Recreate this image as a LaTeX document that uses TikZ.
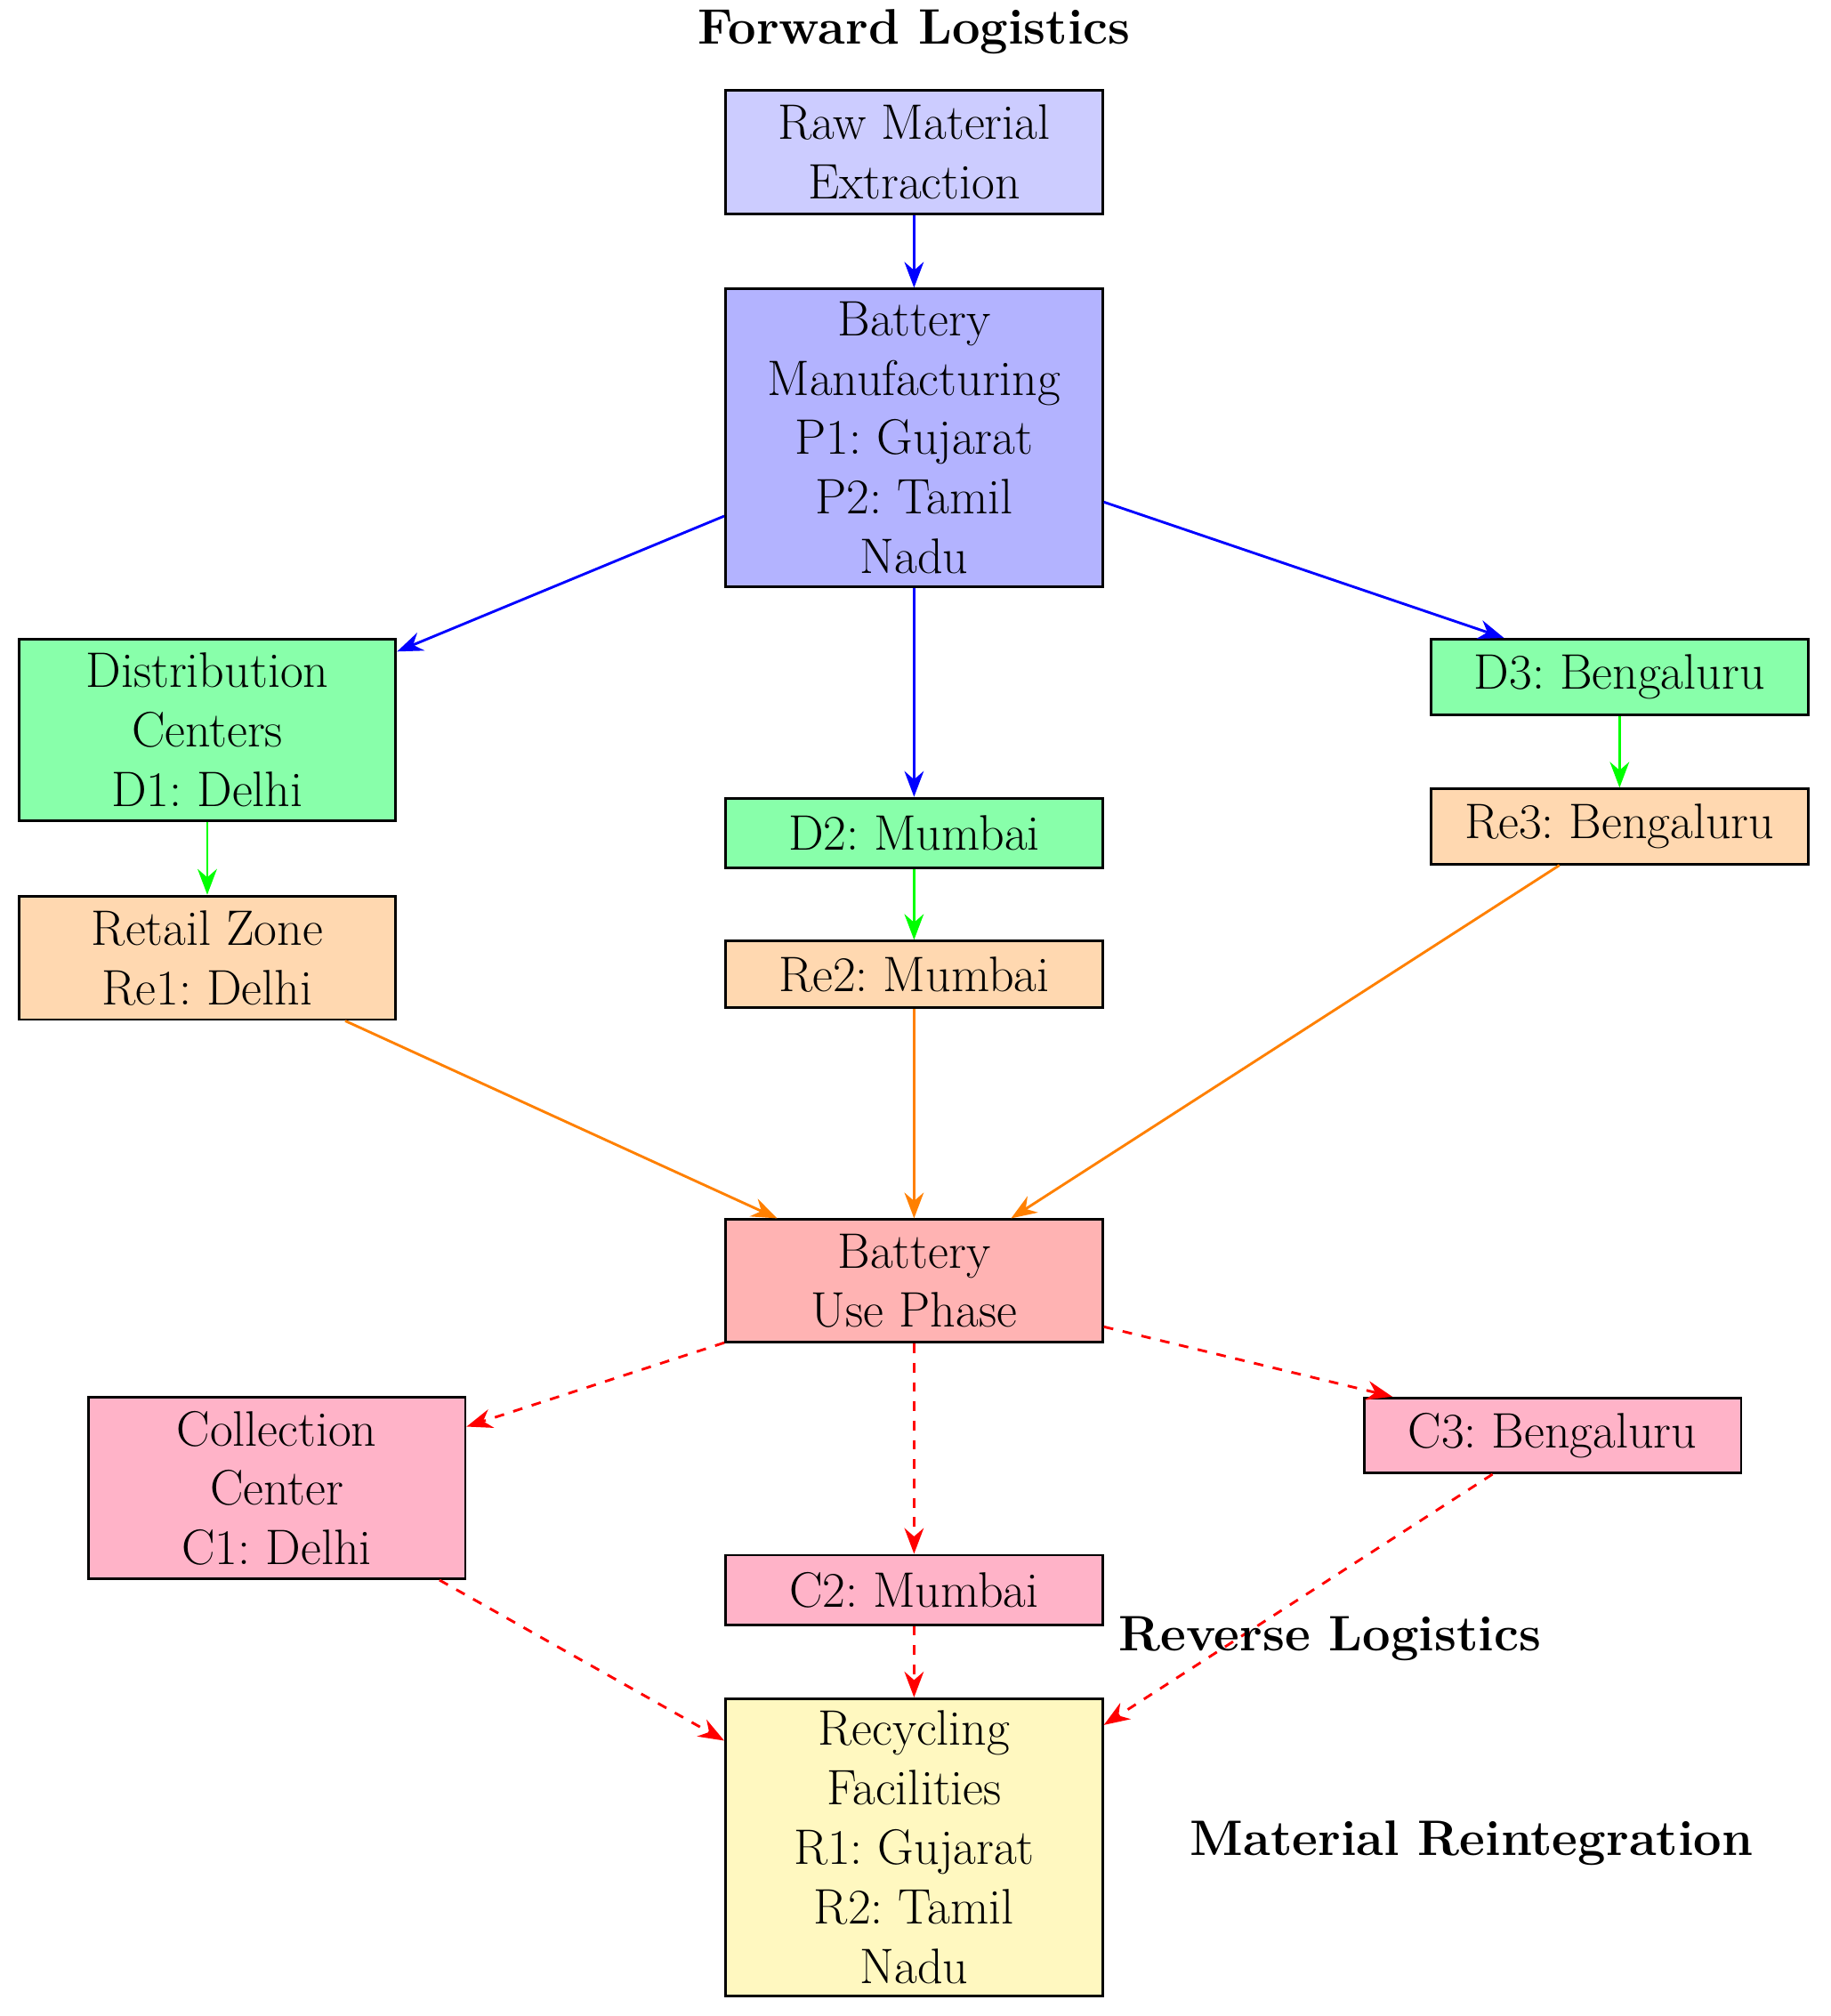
\documentclass[tikz,border=0pt]{standalone}
\usetikzlibrary{arrows.meta}
\definecolor{craw}{RGB}{204,204,255}
\definecolor{cman}{RGB}{179,179,255}
\definecolor{cgr}{RGB}{136,255,170}
\definecolor{cor}{RGB}{255,216,176}
\definecolor{cuse}{RGB}{255,179,179}
\definecolor{cpk}{RGB}{255,179,200}
\definecolor{cye}{RGB}{255,248,192}
\begin{document}
\begin{tikzpicture}[x=0.014065cm,y=-0.014065cm,
  box/.style={draw,thick,align=center,minimum width=293\pgflinewidth*0+4.12cm,font=\fontsize{15.5}{18.5}\selectfont,inner sep=2pt},
  ttl/.style={font=\fontsize{15.5}{18}\selectfont\bfseries},
  arr/.style={->,>={Stealth[length=8pt,width=6pt]},thick}]
\useasboundingbox (0,0) rectangle (1422,1566);
\node[ttl] (t1) at (710,25) {Forward Logistics};
\node[box,fill=craw,minimum height=96\pgflinewidth*0+1.35cm] (raw) at (710,118) {Raw Material\\Extraction};
\node[box,fill=cman,minimum height=3.25cm] (man) at (710,340) {Battery\\Manufacturing\\P1:\ Gujarat\\P2:\ Tamil\\Nadu};
\node[box,fill=cgr,minimum height=1.98cm] (d1) at (161,567) {Distribution\\Centers\\D1:\ Delhi};
\node[box,fill=cgr,minimum height=0.76cm] (d2) at (710,647) {D2:\ Mumbai};
\node[box,fill=cgr,minimum height=0.83cm] (d3) at (1258,526) {D3:\ Bengaluru};
\node[box,fill=cor,minimum height=1.35cm] (r1) at (161,744) {Retail Zone\\Re1:\ Delhi};
\node[box,fill=cor,minimum height=0.73cm] (r2) at (710,757) {Re2:\ Mumbai};
\node[box,fill=cor,minimum height=0.82cm] (r3) at (1258,642) {Re3:\ Bengaluru};
\node[box,fill=cuse,minimum height=1.34cm] (use) at (710,995) {Battery\\Use Phase};
\node[box,fill=cpk,minimum height=1.98cm] (c1) at (215,1156) {Collection\\Center\\C1:\ Delhi};
\node[box,fill=cpk,minimum height=0.76cm] (c2) at (710,1235) {C2:\ Mumbai};
\node[box,fill=cpk,minimum height=0.82cm] (c3) at (1206,1115) {C3:\ Bengaluru};
\node[box,fill=cye,minimum height=3.25cm] (rec) at (710,1435) {Recycling\\Facilities\\R1:\ Gujarat\\R2:\ Tamil\\Nadu};
\draw[arr,blue] (raw) -- (man);
\draw[arr,blue] (man) -- (d1);
\draw[arr,blue] (man) -- (d2);
\draw[arr,blue] (man) -- (d3);
\draw[arr,green] (d1) -- (r1);
\draw[arr,green] (d2) -- (r2);
\draw[arr,green] (d3) -- (r3);
\draw[arr,orange] (r1) -- (use);
\draw[arr,orange] (r2) -- (use);
\draw[arr,orange] (r3) -- (use);
\draw[arr,red,dashed] (use) -- (c1);
\draw[arr,red,dashed] (use) -- (c2);
\draw[arr,red,dashed] (use) -- (c3);
\draw[arr,red,dashed] (c1) -- (rec);
\draw[arr,red,dashed] (c2) -- (rec);
\draw[arr,red,dashed] (c3) -- (rec);
\node[ttl] (t2) at (1033,1273) {Reverse Logistics};
\node[ttl] (t3) at (1143,1432) {Material Reintegration};
\end{tikzpicture}
\end{document}
